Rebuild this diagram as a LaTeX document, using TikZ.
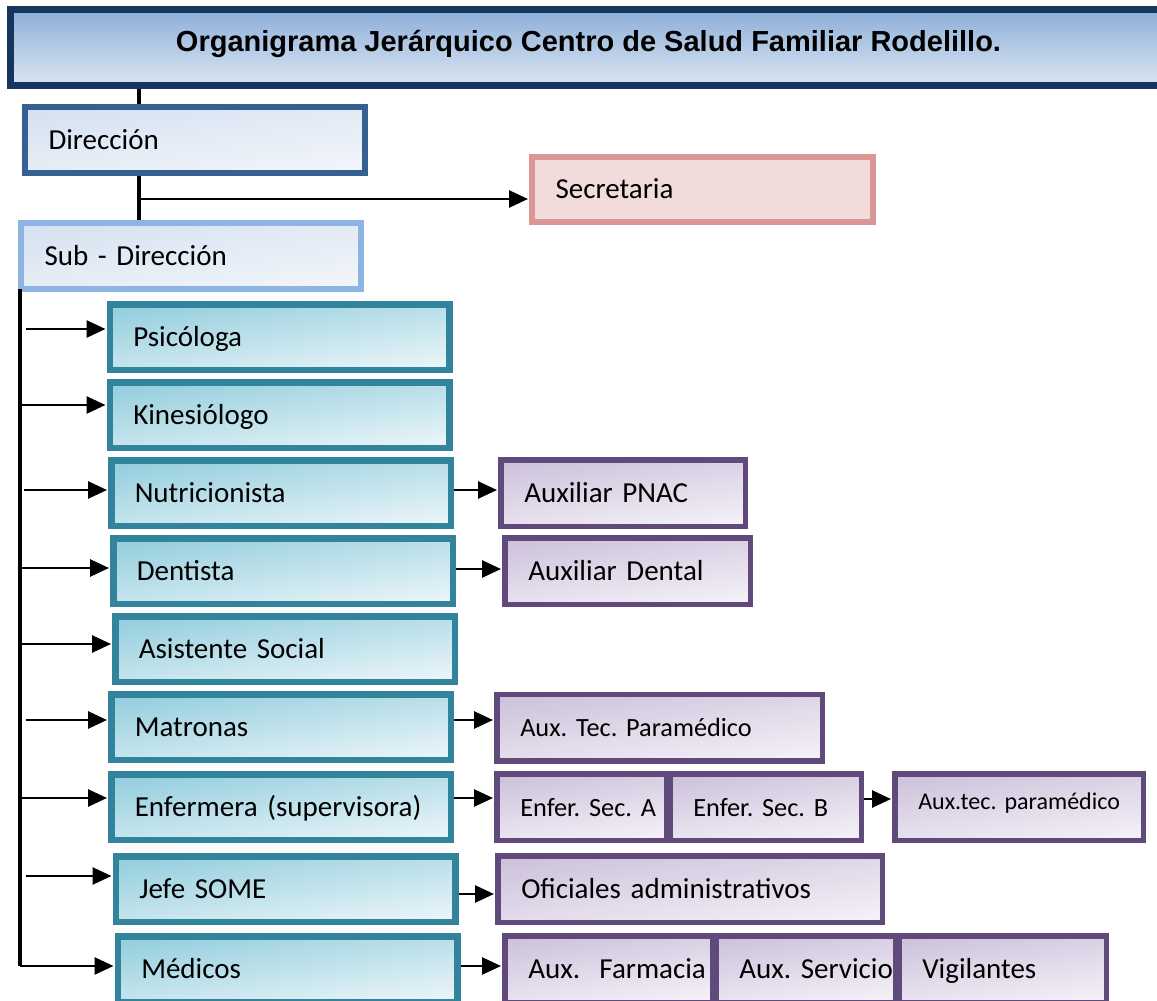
\documentclass[tikz,border=0pt]{standalone}
\usepackage{fontspec}
\setmainfont{Carlito}
\newfontfamily\titlefont{Liberation Sans}
\usetikzlibrary{arrows.meta}
\hyphenpenalty=10000
\exhyphenpenalty=10000

\definecolor{navy}{RGB}{23,54,93}
\definecolor{dirline}{RGB}{55,96,146}
\definecolor{subline}{RGB}{141,180,226}
\definecolor{secline}{RGB}{217,150,148}
\definecolor{secfill}{RGB}{242,220,219}
\definecolor{tealline}{RGB}{49,132,155}
\definecolor{tealtop}{RGB}{150,207,222}
\definecolor{tealbot}{RGB}{232,244,248}
\definecolor{lilaline}{RGB}{96,74,123}
\definecolor{lilatop}{RGB}{206,195,220}
\definecolor{lilabot}{RGB}{243,240,247}
\definecolor{bluetop}{RGB}{140,174,216}
\definecolor{bluebot}{RGB}{220,230,243}
\definecolor{paletop}{RGB}{214,226,241}
\definecolor{palebot}{RGB}{242,245,250}

\tikzset{
  every node/.style={font=\fontsize{29}{34}\selectfont},
  box/.style={rectangle, inner xsep=23.5pt, align=left, text height=20pt, text depth=2pt},
  titlebox/.style={rectangle, draw=navy, line width=7pt, top color=bluetop, bottom color=bluebot,
    font=\titlefont\bfseries\fontsize{29}{34}\selectfont, minimum width=1156pt, minimum height=76pt,
    text height=21pt, text depth=14pt},
  dirbox/.style={box, draw=dirline, line width=6pt, top color=paletop, bottom color=palebot,
    shading angle=8, minimum height=66pt, text width=293pt},
  secbox/.style={box, draw=secline, line width=6pt, fill=secfill, minimum height=65pt, text width=294pt},
  tealbox/.style={box, draw=tealline, line width=6.5pt, top color=tealtop, bottom color=tealbot,
    shading angle=8, minimum height=65.5pt, text width=292.5pt},
  lilabox/.style={box, draw=lilaline, line width=5.5pt, top color=lilatop, bottom color=lilabot,
    shading angle=8, minimum height=66.5pt},
  small/.style={font=\fontsize{26.3}{30}\selectfont},
  link/.style={line width=3.3pt},
  arr/.style={line width=2.7pt, -{Triangle[length=19pt,width=17pt]}, shorten >=1pt},
}

\begin{document}
\begin{tikzpicture}[x=1pt, y=-1pt]
\useasboundingbox (0,0) rectangle (1157,1001);

% top of the chart
\node[titlebox] (title) at (588.5,47.5) {Organigrama Jerárquico Centro de Salud Familiar Rodelillo.};
\node[dirbox] (dir) at (195,140) {Dirección};
\node[dirbox, draw=subline] (sub) at (191,256) {Sub - Dirección};
\node[secbox] (sec) at (702.5,189.5) {Secretaria};

% second level
\node[tealbox] (psi) at (279.5,337) {Psicóloga};
\node[tealbox] (kin) at (279.5,415) {Kinesiólogo};
\node[tealbox] (nut) at (281,493) {Nutricionista};
\node[tealbox] (den) at (283,571) {Dentista};
\node[tealbox] (asi) at (285,649) {Asistente Social};
\node[tealbox] (mat) at (281,727) {Matronas};
\node[tealbox] (enf) at (281,807) {Enfermera (supervisora)};
\node[tealbox] (jefe) at (285.5,889) {Jefe SOME};
\node[tealbox] (med) at (287.5,969) {Médicos};

% third level
\node[lilabox, text width=197.5pt] (pnac) at (623,493) {Auxiliar PNAC};
\node[lilabox, text width=198.5pt] (dental) at (627.5,571) {Auxiliar Dental};
\node[lilabox, small, text width=278.5pt] (auxtec) at (659.5,727.5) {Aux.~Tec.~Paramédico};
\node[lilabox, small, text width=122.5pt] (enfa) at (581.5,807) {Enfer.~Sec.~A};
\node[lilabox, small, text width=144.5pt] (enfb) at (765.5,807) {Enfer.~Sec.~B};
\node[lilabox, font=\fontsize{24}{28}\selectfont, text width=201.5pt, text depth=16pt] (auxtec2) at (1019,807) {Aux.tec.~paramédico};
\node[lilabox, text width=337.5pt] (ofi) at (690,889) {Oficiales administrativos};
\node[lilabox, text width=160.5pt] (farm) at (608.5,969) {Aux.~~Farmacia};
\node[lilabox, text width=132.5pt] (serv) at (805.5,969) {Aux.~Servicio};
\node[lilabox, text width=160.5pt] (vig) at (1002.5,969) {Vigilantes};

% connectors
\draw[link] (title.south -| 139,0) -- (dir.north -| 139,0);
\draw[link] (dir.south -| 139,0) -- (sub.north -| 139,0);
\coordinate (j0) at (139,199);
\draw[arr] (j0) -- (j0 -| sec.west);

\coordinate (t0) at (20,289);
\coordinate (t1) at (20,966);
\draw[link] (t0) -- (t1);
\draw[arr] (t1) -- (t1 -| med.west);
\foreach \x/\y/\n in {26/329/psi, 20/405/kin, 24/490/nut, 20/568/den, 20/644/asi, 26/720/mat, 20/798/enf, 26/876/jefe}{
  \coordinate (a\n) at (\x,\y);
  \draw[arr] (a\n) -- (a\n -| \n.west);
}
\foreach \a/\b/\y in {nut/pnac/490, den/dental/569, mat/auxtec/720, enf/enfa/798, enfb/auxtec2/799, jefe/ofi/894, med/farm/966}
  \draw[arr] (\a.east |- 0,\y) -- (\b.west |- 0,\y);
\end{tikzpicture}
\end{document}
